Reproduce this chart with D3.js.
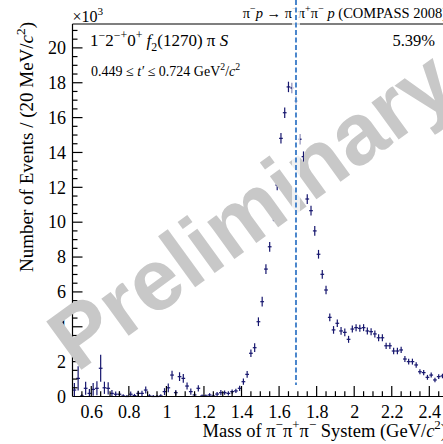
<!DOCTYPE html>
<html><head><meta charset="utf-8">
<script src="https://cdn.jsdelivr.net/npm/d3@7"></script>
<style>html,body{margin:0;padding:0;background:#fff;overflow:hidden}</style>
</head><body>
<svg id="c" width="443" height="444"></svg>
<script>
// ---- data (thousands of events per 20 MeV bin) ----
const masses = [0.51,0.53,0.55,0.57,0.59,0.61,0.63,0.65,0.67,0.69,0.71,0.73,0.75,0.77,0.79,0.81,0.83,0.85,0.87,0.89,
0.91,0.93,0.95,0.97,0.99,1.01,1.03,1.05,1.07,1.09,1.11,1.13,1.15,1.17,1.19,1.21,1.23,1.25,1.27,1.29,
1.31,1.33,1.35,1.37,1.39,1.41,1.43,1.45,1.47,1.49,1.51,1.53,1.55,1.57,1.59,1.61,1.63,1.65,1.67,1.69,
1.71,1.73,1.75,1.77,1.79,1.81,1.83,1.85,1.87,1.89,1.91,1.93,1.95,1.97,1.99,2.01,2.03,2.05,2.07,2.09,
2.11,2.13,2.15,2.17,2.19,2.21,2.23,2.25,2.27,2.29,2.31,2.33,2.35,2.37,2.39,2.41,2.43,2.45,2.47];
const counts = [0.37,1.04,0.03,0.47,0.18,0.41,0.47,1.62,0.50,0.47,0.18,0.13,0.13,0.03,0.00,0.13,0.05,0.18,0.18,0.37,
0.03,0.00,0.00,0.03,0.28,0.50,1.23,0.22,1.14,1.04,0.60,0.28,0.09,0.47,0.03,0.03,0.09,0.03,0.14,0.22,
0.22,0.18,0.28,0.32,0.47,0.85,1.27,2.48,2.80,4.29,5.44,7.31,8.59,10.36,12.13,14.81,16.28,17.76,17.70,16.95,
14.76,13.76,11.33,10.66,9.50,8.16,7.01,6.11,4.54,3.82,4.20,3.76,3.68,3.28,3.87,3.95,3.91,3.95,3.76,3.72,
3.59,3.37,3.37,2.91,2.91,2.61,2.61,2.67,2.15,2.00,2.00,1.81,1.42,1.37,1.10,1.23,0.95,1.14,1.18];
const errors = [0.40,0.70,0.10,0.37,0.25,0.37,0.40,0.77,0.35,0.35,0.20,0.15,0.15,0.10,0.08,0.15,0.10,0.15,0.15,0.20,
0.10,0.08,0.08,0.10,0.20,0.25,0.25,0.15,0.25,0.25,0.20,0.18,0.10,0.18,0.08,0.08,0.10,0.08,0.12,0.15,
0.12,0.12,0.12,0.12,0.15,0.18,0.20,0.22,0.25,0.25,0.28,0.28,0.28,0.30,0.30,0.30,0.30,0.30,0.30,0.30,
0.30,0.30,0.28,0.28,0.28,0.25,0.25,0.25,0.22,0.22,0.22,0.22,0.22,0.20,0.20,0.20,0.20,0.20,0.20,0.20,
0.20,0.20,0.20,0.18,0.18,0.18,0.18,0.18,0.17,0.17,0.17,0.16,0.15,0.15,0.14,0.14,0.13,0.13,0.13];
const binWidth = 0.02;
const xMajorTicks = [0.6,0.8,1,1.2,1.4,1.6,1.8,2,2.2,2.4];
const xTickLabels = ["0.6","0.8","1","1.2","1.4","1.6","1.8","2","2.2","2.4"];
const yMajorTicks = [0,2,4,6,8,10,12,14,16,18,20];
const yTickLabels = ["0","2","4","6","8","10","12","14","16","18","20"];
const markerMass = 1.69;
const fractionText = "5.39%";

// ---- layout ----
const FONT = "'Liberation Serif','Times New Roman',serif";
const svg = d3.select('#c');
const L = 72.5, R = 448.1, T = 24, B = 396.5;
const x = d3.scaleLinear().domain([0.5, 2.5]).range([L, R]);
const y = d3.scaleLinear().domain([0, 21.37]).range([B, T]);
const ink = '#000';
const ptCol = '#16166e';

function rich(g, px, py, parts, size, anchor) {
  const t = g.append('text').attr('x', px).attr('y', py)
    .attr('font-family', FONT).attr('font-size', size)
    .attr('text-anchor', anchor || 'start').attr('fill', ink);
  let cur = 0;
  parts.forEach(p => {
    const off = p.sup ? -size * 0.42 : p.sub ? size * 0.28 : 0;
    const ts = t.append('tspan').text(p.t).attr('dy', off - cur);
    cur = off;
    if (p.sup || p.sub) ts.attr('font-size', size * 0.7);
    if (p.it) ts.attr('font-style', 'italic');
  });
  return t;
}

// data points (histogram with error bars)
const gp = svg.append('g').attr('stroke', ptCol).attr('stroke-width', 1.2);
masses.forEach((m, i) => {
  gp.append('line').attr('x1', x(m - binWidth/2)).attr('x2', x(m + binWidth/2))
    .attr('y1', y(counts[i])).attr('y2', y(counts[i]));
  gp.append('line').attr('x1', x(m)).attr('x2', x(m))
    .attr('y1', y(Math.max(0, counts[i] - errors[i]))).attr('y2', y(counts[i] + errors[i]));
});

// frame & axes
const ga = svg.append('g').attr('stroke', ink).attr('stroke-width', 1.2).attr('fill', 'none');
ga.append('line').attr('x1', L).attr('x2', 443).attr('y1', T).attr('y2', T);
ga.append('line').attr('x1', L).attr('x2', L).attr('y1', T).attr('y2', B);
ga.append('line').attr('x1', L).attr('x2', 443).attr('y1', B).attr('y2', B);

const xAxis = d3.axisBottom(x).tickValues(xMajorTicks).tickSize(0).tickFormat((d, i) => xTickLabels[i]);
const gx = svg.append('g').attr('transform', `translate(0,${B})`).call(xAxis);
gx.select('.domain').remove();
gx.selectAll('text').attr('font-family', FONT).attr('font-size', 18).attr('fill', ink).attr('dy', '1.05em');
const xMinor = d3.range(0.55, 2.5, 0.05);
xMinor.forEach(v => {
  const maj = xMajorTicks.some(t => Math.abs(t - v) < 1e-6);
  ga.append('line').attr('x1', x(v)).attr('x2', x(v)).attr('y1', B).attr('y2', B - (maj ? 10.5 : 5.3));
});

const yAxis = d3.axisLeft(y).tickValues(yMajorTicks).tickSize(0).tickFormat((d, i) => yTickLabels[i]);
const gy = svg.append('g').attr('transform', `translate(${L},0)`).call(yAxis);
gy.select('.domain').remove();
gy.selectAll('text').attr('font-family', FONT).attr('font-size', 18).attr('fill', ink).attr('dx', '-0.2em');
d3.range(0.5, 21.3, 0.5).forEach(v => {
  const maj = Math.abs(v / 2 - Math.round(v / 2)) < 1e-6;
  ga.append('line').attr('x1', L).attr('x2', L + (maj ? 10 : 5)).attr('y1', y(v)).attr('y2', y(v));
});

// texts
rich(svg, 72.5, 22, [{t: '×10'}, {t: '3', sup: true}], 16);
rich(svg, 447, 18, [{t: 'π'}, {t: '−', sup: true}, {t: 'p', it: true}, {t: ' → π'}, {t: '−', sup: true}, {t: 'π'}, {t: '+', sup: true}, {t: 'π'}, {t: '−', sup: true}, {t: ' '}, {t: 'p', it: true}, {t: ' (COMPASS 2008)'}], 14.5, 'end');
rich(svg, 90, 46, [{t: '1'}, {t: '−', sup: true}, {t: '2'}, {t: '−+', sup: true}, {t: '0'}, {t: '+', sup: true}, {t: ' '}, {t: 'f', it: true}, {t: '2', sub: true}, {t: '(1270) π '}, {t: 'S', it: true}], 17);
rich(svg, 91, 76, [{t: '0.449 ≤ '}, {t: 't′', it: true}, {t: ' ≤ 0.724 GeV'}, {t: '2', sup: true}, {t: '/'}, {t: 'c', it: true}, {t: '2', sup: true}], 14);
rich(svg, 435, 46, [{t: fractionText}], 16.5, 'end');
rich(svg, 0, 0, [{t: 'Number of Events / (20 MeV/'}, {t: 'c', it: true}, {t: '2', sup: true}, {t: ')'}], 19, 'end')
  .attr('transform', 'translate(32.5,22) rotate(-90)');
rich(svg, 447, 437, [{t: 'Mass of π'}, {t: '−', sup: true}, {t: 'π'}, {t: '+', sup: true}, {t: 'π'}, {t: '−', sup: true}, {t: ' System (GeV/'}, {t: 'c', it: true}, {t: '2', sup: true}, {t: ')'}], 18.5, 'end');

// watermark
svg.append('text').text('Preliminary')
  .attr('font-family', "'Liberation Sans',Arial,sans-serif").attr('font-weight', 'bold')
  .attr('font-size', 87).attr('fill', '#c8c8c8').attr('text-anchor', 'middle')
  .attr('transform', 'translate(268.5,234) rotate(-36)');

// marker line
svg.append('line').attr('x1', x(markerMass)).attr('x2', x(markerMass)).attr('y1', 0).attr('y2', 385)
  .attr('stroke', '#fff').attr('stroke-width', 8).attr('stroke-opacity', 0.75);
svg.append('line').attr('x1', x(markerMass)).attr('x2', x(markerMass)).attr('y1', 0).attr('y2', 385)
  .attr('stroke', '#4a86cc').attr('stroke-width', 2).attr('stroke-dasharray', '5,2.5');
</script>
</body></html>
